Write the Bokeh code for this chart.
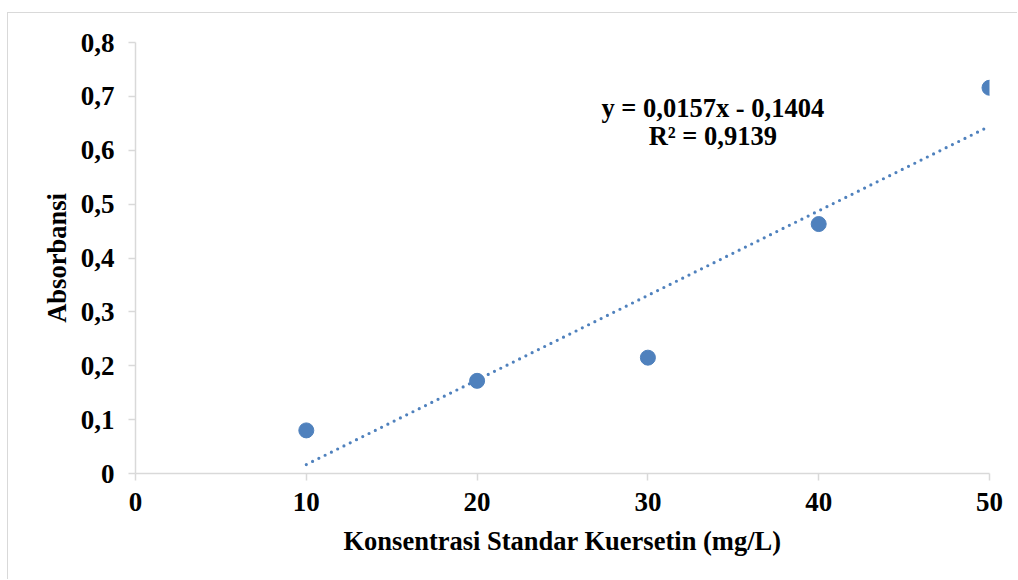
from bokeh.plotting import figure
from bokeh.models import Range1d, CustomJSTickFormatter, FixedTicker, Label, ColumnDataSource
from bokeh.embed import file_html
from bokeh.resources import INLINE

# data
konsentrasi = [10, 20, 30, 40, 50]
absorbansi = [0.080, 0.172, 0.215, 0.463, 0.716]
slope = 0.0157
intercept = -0.1404
r2_text = "R² = 0,9139"
eq_text = "y = 0,0157x - 0,1404"
x_ticks = [0, 10, 20, 30, 40, 50]
y_ticks = [0, 0.1, 0.2, 0.3, 0.4, 0.5, 0.6, 0.7, 0.8]

FONT = "Liberation Serif"
BLUE = "#4f81bd"
AXIS_GRAY = "#d9d9d9"

p = figure(width=1010, height=567, output_backend="svg", toolbar_location=None,
           x_range=Range1d(0, 50), y_range=Range1d(0, 0.8),
           min_border_left=127, min_border_right=29, min_border_top=29, min_border_bottom=107)
p.margin = (12, 0, 0, 7)
p.styles = {"border-left": "1px solid #d9d9d9", "border-top": "1px solid #d9d9d9"}
p.outline_line_color = None
p.grid.visible = False
p.background_fill_color = "white"
p.border_fill_color = "white"

# trend line
tx = [min(konsentrasi), max(konsentrasi)]
ty = [slope * v + intercept for v in tx]
p.line(tx, ty, line_color=BLUE, line_width=3.2, line_dash="0 7", line_cap="round")

src = ColumnDataSource(dict(x=konsentrasi, y=absorbansi))
p.scatter("x", "y", source=src, size=15, fill_color=BLUE, line_color=BLUE)

for ax in (p.xaxis[0], p.yaxis[0]):
    ax.axis_line_color = AXIS_GRAY
    ax.axis_line_width = 1.5
    ax.major_tick_line_color = AXIS_GRAY
    ax.major_tick_line_width = 1.5
    ax.major_tick_out = 7
    ax.major_tick_in = 0
    ax.minor_tick_line_color = None
    ax.major_label_text_font = FONT
    ax.major_label_text_font_style = "bold"
    ax.major_label_text_font_size = "27px"
    ax.major_label_text_color = "black"
    ax.axis_label_text_font = FONT
    ax.axis_label_text_font_style = "bold"
    ax.axis_label_text_font_size = "26.5px"
    ax.axis_label_text_color = "black"

p.xaxis.ticker = FixedTicker(ticks=x_ticks)
p.yaxis.ticker = FixedTicker(ticks=y_ticks)
p.yaxis.formatter = CustomJSTickFormatter(code="""
    if (Math.abs(tick) < 1e-9) return '0';
    return tick.toFixed(1).replace('.', ',');
""")
p.xaxis.major_label_standoff = 12
p.yaxis.major_label_standoff = 14
p.xaxis.axis_label = "Konsentrasi Standar Kuersetin (mg/L)"
p.yaxis.axis_label = "Absorbansi"
p.xaxis.axis_label_standoff = 12
p.yaxis.axis_label_standoff = 6

p.add_layout(Label(x=33.8, y=0.706, text=eq_text, text_align="center", text_baseline="top",
                   text_font=FONT, text_font_style="bold", text_font_size="26.5px", text_color="black"))
p.add_layout(Label(x=33.8, y=0.654, text=r2_text, text_align="center", text_baseline="top",
                   text_font=FONT, text_font_style="bold", text_font_size="26.5px", text_color="black"))

open("out.html", "w").write(file_html(p, INLINE))
